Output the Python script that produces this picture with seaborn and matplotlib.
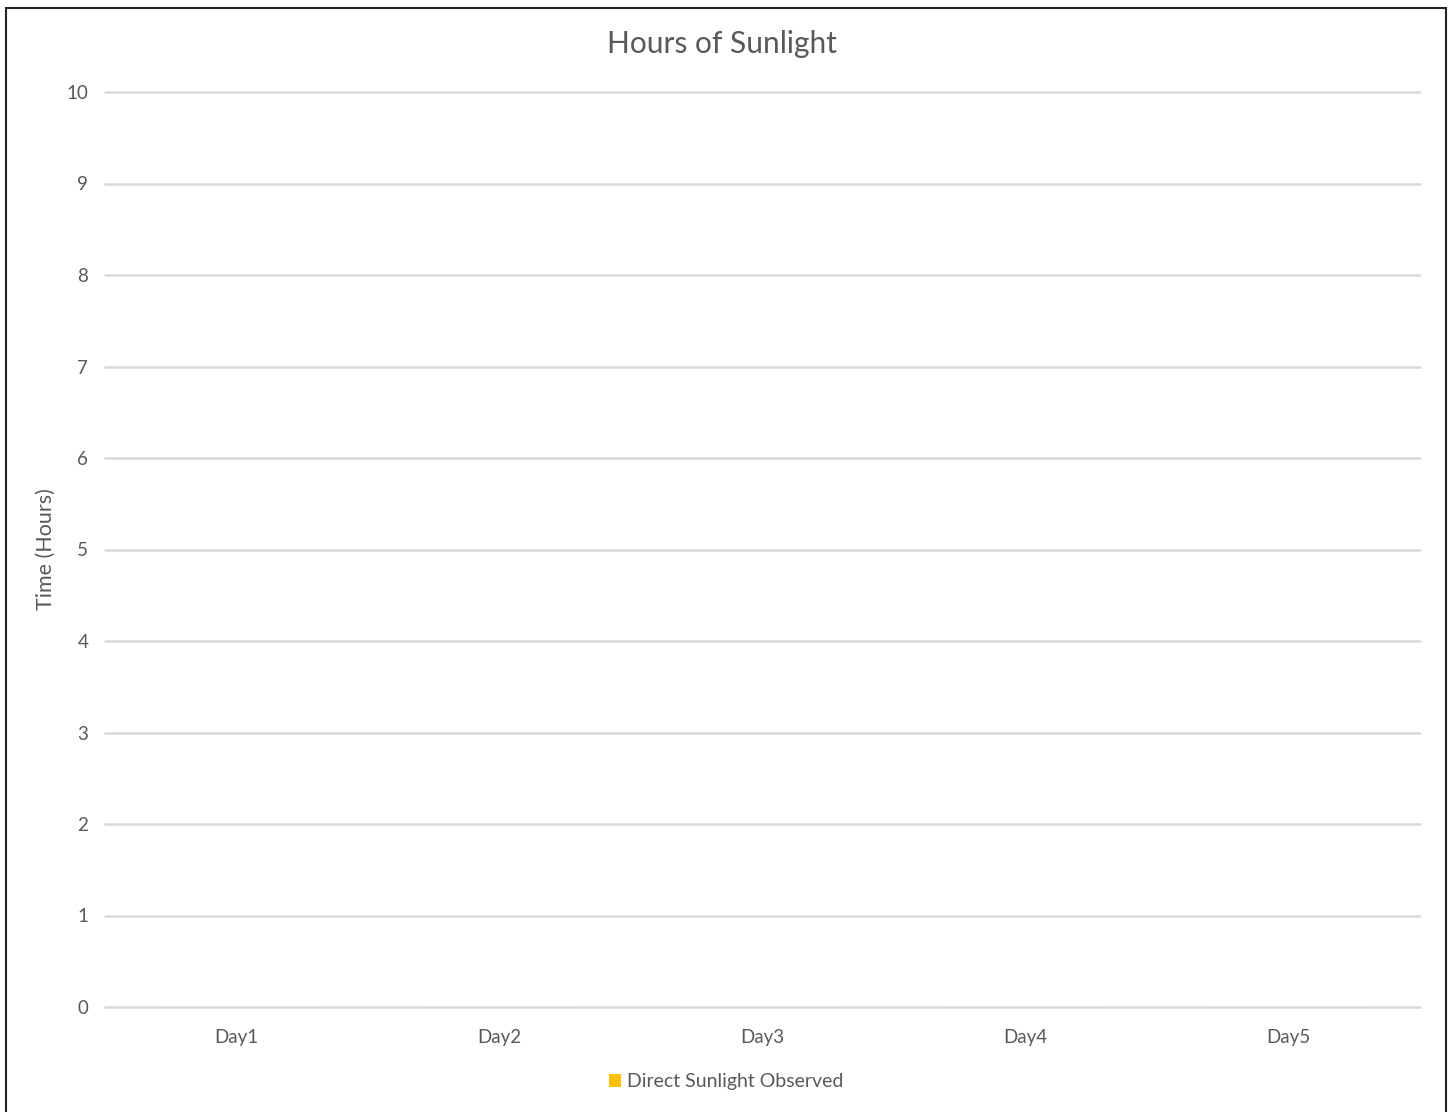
import matplotlib
matplotlib.use("Agg")
import matplotlib.pyplot as plt
import seaborn as sns
import pandas as pd
from matplotlib.patches import Rectangle

days = ["Day1", "Day2", "Day3", "Day4", "Day5"]
hours = [0, 0, 0, 0, 0]
series_name = "Direct Sunlight Observed"
yticks = [0, 1, 2, 3, 4, 5, 6, 7, 8, 9, 10]

df = pd.DataFrame({"Day": days, "Hours": hours, "Series": [series_name] * len(days)})

sns.set_theme(style="white")
plt.rcParams["font.family"] = ["Lato", "DejaVu Sans"]
text_color = "#595959"

fig = plt.figure(figsize=(14.53, 11.12), dpi=100)
ax = fig.add_axes([105 / 1453, 1 - 1007 / 1112, (1420 - 105) / 1453, (1007 - 92) / 1112])

sns.barplot(data=df, x="Day", y="Hours", hue="Series", palette=["#FFC000"], ax=ax, width=0.6)

ax.set_ylim(0, 10)
ax.set_xlim(-0.5, 4.5)
ax.set_yticks(yticks)
ax.yaxis.grid(True, color="#D9D9D9", linewidth=1.8)
for gl in ax.get_ygridlines():
    gl.set_clip_on(False)
ax.set_axisbelow(True)
for s in ax.spines.values():
    s.set_visible(False)
ax.tick_params(axis="y", length=0, labelsize=13.5, colors=text_color, pad=12)
ax.tick_params(axis="x", length=0, labelsize=13.5, colors=text_color, pad=16)
ax.set_xlabel("")
ax.set_ylabel("Time (Hours)", fontsize=15.5, color=text_color)
ax.yaxis.set_label_coords((56 - 105) / 1315, 0.5)

fig.text(722 / 1453, 1 - 44 / 1112, "Hours of Sunlight", fontsize=21.5,
         color=text_color, ha="center", va="center")

ax.get_legend().remove()
handles = [Rectangle((0, 0), 1, 1, facecolor="#FFC000", edgecolor="none")]
fig.legend(handles, [series_name], loc="center", bbox_to_anchor=(726 / 1453, 1 - 1082 / 1112),
           frameon=False, fontsize=14, handlelength=0.6, handleheight=0.6,
           handletextpad=0.3, labelcolor=text_color)

border = Rectangle((6 / 1453, -0.01), (1446 - 6) / 1453, 1 - 8 / 1112 + 0.01,
                   transform=fig.transFigure, fill=False, edgecolor="#222222",
                   linewidth=1.5, clip_on=False)
fig.patches.append(border)

fig.savefig("out.png", dpi=100)
